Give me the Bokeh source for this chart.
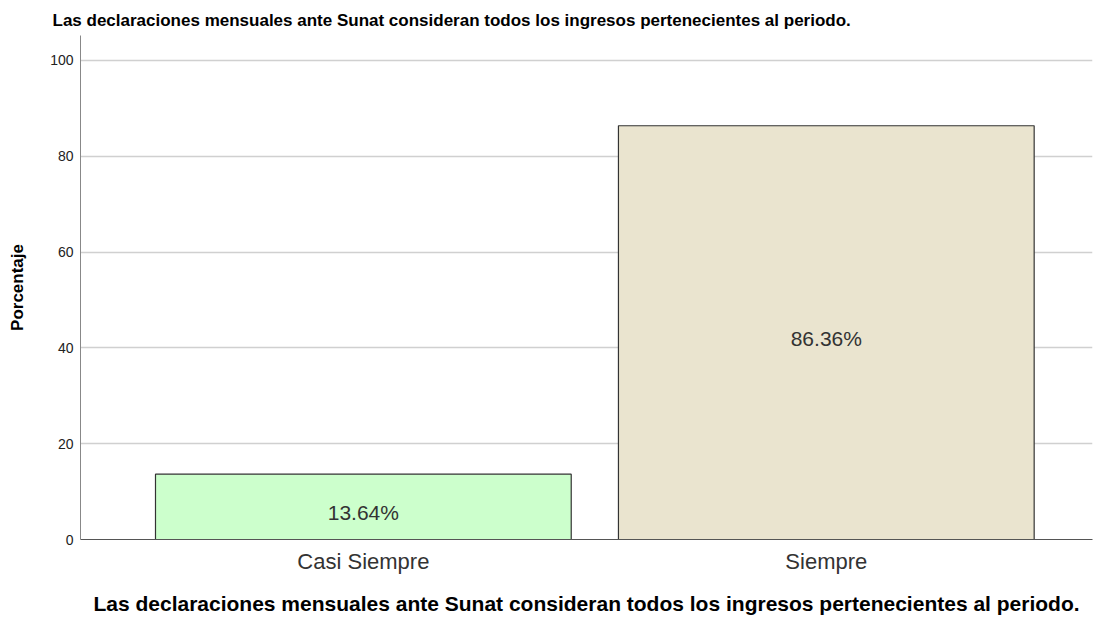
from bokeh.plotting import figure
from bokeh.models import Range1d, ColumnDataSource, FixedTicker
from bokeh.core.properties import value
from bokeh.embed import file_html
from bokeh.resources import INLINE

categories = ["Casi Siempre", "Siempre"]
percentages = [13.64, 86.36]
colors = ["#CCFFCC", "#EAE4CF"]
y_ticks = [0, 20, 40, 60, 80, 100]
title_text = "Las declaraciones mensuales ante Sunat consideran todos los ingresos pertenecientes al periodo."

xs = list(range(len(categories)))
src = ColumnDataSource(dict(
    x=xs, top=percentages, color=colors,
    mid=[v / 2 - 1.2 for v in percentages],
    label=["%.2f%%" % v for v in percentages],
))

p = figure(width=1102, height=617, output_backend="svg", toolbar_location=None,
           x_range=Range1d(-0.611, 1.575), y_range=Range1d(0, 105.2),
           min_border_left=80, min_border_right=10, min_border_top=35, min_border_bottom=78)

p.title.text = title_text
p.title.text_font = "Liberation Sans"
p.title.text_font_size = "17px"
p.title.text_font_style = "bold"
p.title.text_color = "#000000"
p.title.align = "left"
p.title.offset = -28
p.title.standoff = 12

p.vbar(x="x", top="top", width=0.898, bottom=0, source=src, fill_color="color",
       line_color="#333333", line_width=1.2)
p.text(x="x", y="mid", text="label", source=src, text_align="center", text_baseline="middle",
       text_font=value("Liberation Sans"), text_font_size="21px", text_color="#333333")

p.outline_line_color = None
p.xgrid.grid_line_color = None
p.ygrid.grid_line_color = "#D0D0D0"
p.ygrid.grid_line_width = 1.5
p.ygrid.ticker = FixedTicker(ticks=y_ticks)

p.yaxis.ticker = FixedTicker(ticks=y_ticks)
p.yaxis.axis_label = "Porcentaje"
p.yaxis.axis_label_text_font = "Liberation Sans"
p.yaxis.axis_label_text_font_size = "17px"
p.yaxis.axis_label_text_font_style = "bold"
p.yaxis.axis_label_text_color = "#000000"
p.yaxis.axis_label_standoff = 20
p.yaxis.major_label_text_font = "Liberation Sans"
p.yaxis.major_label_text_font_size = "14px"
p.yaxis.major_label_text_color = "#222222"
p.yaxis.major_tick_line_color = None
p.yaxis.major_tick_out = 0
p.yaxis.major_tick_in = 0
p.yaxis.minor_tick_line_color = None
p.yaxis.minor_tick_out = 0
p.yaxis.major_label_standoff = 7
p.yaxis.axis_line_color = "#888888"

p.xaxis.ticker = FixedTicker(ticks=xs)
p.xaxis.major_label_overrides = {i: c for i, c in zip(xs, categories)}
p.xaxis.major_label_text_font = "Liberation Sans"
p.xaxis.major_label_text_font_size = "22px"
p.xaxis.major_label_text_color = "#333333"
p.xaxis.major_tick_line_color = None
p.xaxis.major_tick_out = 0
p.xaxis.major_tick_in = 0
p.xaxis.minor_tick_line_color = None
p.xaxis.minor_tick_out = 0
p.xaxis.major_label_standoff = 9
p.xaxis.axis_line_color = "#555555"
p.xaxis.axis_label = title_text
p.xaxis.axis_label_text_font = "Liberation Sans"
p.xaxis.axis_label_text_font_size = "21px"
p.xaxis.axis_label_text_font_style = "bold"
p.xaxis.axis_label_text_color = "#000000"
p.xaxis.axis_label_standoff = 15

open("out.html", "w").write(file_html(p, INLINE))
